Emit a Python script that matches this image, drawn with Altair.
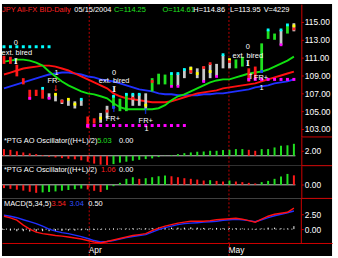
import altair as alt
import pandas as pd

# ---------------- data ----------------
idx = list(range(46))
bar_high = [111.2, 111.1, 110.2, 108.7, 107.4, 107.4, 107.6, 107.0, 106.9, 106.3,
            106.3, 106.1, 106.3, 104.4, 104.2, 104.8, 105.6, 106.7, 106.4, 106.9,
            106.9, 106.9, 107.0, 108.7, 109.2, 109.1, 109.2, 109.2, 109.7, 110.0,
            109.8, 110.0, 110.3, 110.3, 111.3, 110.8, 110.8, 111.1, 109.8, 110.0,
            112.6, 114.1, 113.7, 114.1, 114.7, 114.86]
bar_low = [110.3, 110.3, 108.9, 108.0, 106.3, 106.7, 106.4, 106.4, 106.1, 105.8,
           105.6, 105.3, 105.6, 103.1, 103.6, 103.7, 104.2, 105.3, 105.0, 105.0,
           105.6, 105.6, 105.3, 107.2, 108.0, 108.0, 107.8, 107.8, 108.7, 109.2,
           108.7, 108.3, 108.7, 108.9, 109.8, 109.8, 109.8, 110.0, 108.3, 108.6,
           109.4, 113.1, 113.0, 112.4, 113.7, 113.95]
bar_kind = ["d", "d", "d", "d", "d", "d", "d", "n", "n", "n",
            "n", "n", "n", "d", "d", "n", "n", "u", "u", "u",
            "n", "n", "n", "u", "u", "u", "u", "n", "n", "n",
            "n", "n", "n", "n", "n", "n", "u", "u", "d", "d",
            "u", "u", "u", "n", "u", "n"]

jaw = [107.56, 107.78, 108.0, 108.22, 108.44, 108.67, 108.89, 109.11, 109.22, 109.33,
       109.33, 109.22, 109.11, 108.89, 108.78, 108.56, 108.44, 108.33, 108.11, 107.89,
       107.67, 107.44, 107.33, 107.22, 107.0, 106.89, 106.89, 106.78, 106.78, 106.78,
       106.78, 106.89, 106.89, 107.0, 107.0, 107.11, 107.22, 107.33, 107.44, 107.67,
       107.78, 107.89, 108.11, 108.22, 108.33, 108.56]
teeth = [109.11, 109.33, 109.56, 109.78, 109.89, 110.0, 110.11, 110.11, 110.0, 109.78,
         109.56, 109.22, 108.89, 108.56, 108.22, 107.89, 107.56, 107.0, 106.67, 106.44,
         106.33, 106.22, 106.11, 106.0, 106.0, 106.0, 106.11, 106.33, 106.56, 106.78,
         107.0, 107.11, 107.22, 107.33, 107.56, 107.67, 107.78, 107.89, 108.0, 108.11,
         108.33, 108.56, 108.78, 109.0, 109.22, 109.44]
lips = [110.56, 110.67, 110.78, 110.78, 110.67, 110.44, 110.11, 109.44, 108.89, 108.33,
        107.89, 107.56, 107.22, 107.0, 106.89, 106.67, 106.44, 105.89, 105.44, 105.22,
        105.22, 105.22, 105.22, 105.22, 105.33, 105.67, 106.22, 106.67, 106.89, 107.22,
        107.56, 107.89, 108.22, 108.44, 108.56, 108.56, 108.78, 109.0, 109.22, 109.33,
        109.44, 109.67, 110.0, 110.33, 110.67, 111.11]

dot_i = [4, 6, 7, 8, 9, 10, 11, 12, 13, 15, 16, 17, 17, 19, 20, 20, 21, 22, 23, 26,
         26, 27, 27, 28, 29, 29, 30, 31, 31, 32, 32, 33, 34, 35, 35, 40, 41, 43, 43, 44,
         45, 45]
dot_p = [106.44, 107.56, 106.44, 106.89, 106.11, 106.33, 105.78, 106.33, 103.33, 104.22,
         105.0, 106.67, 105.44, 106.89, 106.89, 106.44, 106.89, 105.67, 108.33, 109.22,
         107.78, 109.22, 107.78, 109.67, 109.78, 109.44, 109.22, 109.89, 108.33, 110.33,
         109.44, 108.89, 111.33, 110.78, 110.56, 109.44, 114.11, 114.11, 112.44, 114.67,
         114.56, 114.22]
dot_k = ["m", "c", "m", "y", "r", "y", "y", "c", "m", "y", "r", "c", "b", "c", "c", "r",
         "c", "y", "r", "c", "m", "c", "m", "c", "y", "r", "y", "r", "m", "r", "y", "m",
         "c", "y", "r", "b", "c", "c", "m", "c", "y", "r"]

frac_i = [0, 1, 2, 3, 4, 5, 6, 7,
          13, 14, 15, 16, 17, 18, 19, 20, 21, 22, 23, 24, 25, 26, 27, 28,
          38, 39, 40, 41, 42, 43, 44, 45]
frac_p = [112.22] * 8 + [103.39] * 16 + [108.56] * 8
frac_k = ["c"] * 8 + ["m"] * 16 + ["m"] * 8

ann_text = ["0", "ext. bired", "1", "FR-", "0", "ext. bired", "FR+", "FR+", "1",
            "0", "ext. bired", "FR+", "1"]
ann_i = [1.85, 2.0, 8.15, 7.7, 17.1, 17.1, 16.9, 22.0, 22.15, 37.85, 37.85, 39.9, 40.0]
ann_p = [112.67, 111.5, 109.22, 108.33, 109.22, 108.33, 104.11, 103.89, 103.0,
         112.22, 111.22, 108.67, 107.56]

glyph_text = ["I", "\u2193", "I", "\u2191", "\u2191", "I", "\u2191"]
glyph_i = [1.85, 8.0, 17.1, 17.1, 22.0, 37.85, 38.3]
glyph_p = [110.56, 107.44, 107.33, 105.11, 104.89, 110.33, 108.78]
glyph_k = ["w", "r", "w", "b", "b", "w", "w"]

ao = [2.8, 2.5, 1.9, 1.4, 1.0, 0.7, 0.3, -0.4, -0.7, -1.0,
      -1.25, -1.5, -1.9, -2.5, -3.3, -3.75, -3.9, -3.5, -2.9, -2.5,
      -2.1, -1.7, -1.4, -1.1, -0.55, -0.1, 0.3, 0.7, 1.1, 1.4,
      1.7, 1.8, 2.1, 2.1, 2.4, 2.5, 2.8, 2.8, 2.5, 2.1,
      2.8, 2.8, 3.5, 4.2, 4.4, 5.03]
ao_kind = ["d"] * 17 + ["u"] * 21 + ["d", "d"] + ["u"] * 6

ac = [-0.37, -0.45, -0.55, -0.65, -0.78, -0.9, -0.85, -0.8, -0.74, -0.66,
      -0.58, -0.5, -0.42, -0.52, -0.67, -0.81, -0.56, -0.15, 0.22, 0.67,
      0.85, 0.67, 0.74, 0.85, 0.96, 1.04, 0.96, 0.85, 0.74, 0.67,
      0.59, 0.48, 0.52, 0.44, 0.37, 0.48, 0.37, 0.30, 0.22, 0.15,
      0.30, 0.44, 0.67, 0.93, 1.22, 1.06]
ac_kind = ["d"] * 6 + ["u"] * 7 + ["d"] * 3 + ["u"] * 5 + ["d"] + ["u"] * 4 + \
          ["d"] * 6 + ["u"] + ["d"] * 2 + ["u"] + ["d"] * 4 + ["u"] * 5 + ["d"]

macd = [2.17, 1.9, 1.5, 0.67, 0.0, -0.5, -0.75, -0.9, -1.08, -1.17,
        -1.33, -1.5, -1.67, -1.92, -2.17, -2.33, -2.08, -1.83, -1.58, -1.33,
        -1.08, -0.92, -0.75, -0.25, 0.17, 0.5, 0.75, 1.0, 1.17, 1.33,
        1.33, 1.33, 1.42, 1.58, 1.67, 1.75, 1.83, 1.67, 1.42, 1.17,
        1.67, 2.17, 2.5, 2.67, 2.83, 3.54]
signal = [2.33, 2.17, 1.92, 1.58, 1.25, 0.92, 0.5, 0.0, -0.33, -0.58,
          -0.75, -1.0, -1.25, -1.58, -1.92, -2.17, -2.08, -1.92, -1.67, -1.42,
          -1.25, -1.08, -0.92, -0.5, -0.08, 0.25, 0.5, 0.75, 0.92, 1.0,
          1.08, 1.17, 1.25, 1.33, 1.5, 1.58, 1.67, 1.58, 1.42, 1.25,
          1.58, 1.92, 2.25, 2.5, 2.75, 3.04]
hist = [-0.15, -0.25, -0.35, -0.35, -0.4, -0.4, -0.35, -0.35, -0.3, -0.3,
        -0.25, -0.25, -0.2, -0.2, -0.15, -0.1, 0.0, 0.1, 0.1, 0.1,
        0.15, 0.15, 0.15, 0.2, 0.25, 0.25, 0.25, 0.25, 0.25, 0.3,
        0.25, 0.2, 0.15, 0.2, 0.15, 0.15, 0.15, 0.1, 0.0, -0.1,
        0.1, 0.25, 0.25, 0.15, 0.1, 0.5]

month_pos = [13.23, 34.92]
month_name = ["Apr", "May"]

header_text = ["JPY All-FX BID-Daily", "05/15/2004", "C=114.25", "O=114.61",
               "H=114.86", "L=113.95", "V=4229"]
ao_title = ["*PTG AO Oscillator((H+L)/2)", "5.03", "0.00"]
ac_title = ["*PTG AC Oscillator((H+L)/2)", "1.06", "0.00"]
macd_title = ["MACD(5,34,5)", "3.54", "3.04", "0.50"]

# ---------------- styling ----------------
FONT = "Liberation Sans"
RED = "#d00000"
W = 333
XDOM = [-0.3077, 50.923]
PDOM = [102.11, 117.0]
AODOM = [-4.17, 7.92]
ACDOM = [-1.522, 2.144]
MDOM = [-4.5, 5.167]
KINDS = ["u", "d", "n", "c", "m", "y", "r", "b", "w"]
KCOL = ["#20e020", "#ff1a1a", "#c8c8c8", "#00ffff", "#ff00ff", "#ffff00",
        "#ff2020", "#2040ff", "#ffffff"]
COLOR = alt.Scale(domain=KINDS, range=KCOL)


def yaxis(values, domain=True):
    return alt.Axis(orient="right", offset=-31, values=values, format=".2f", title=None,
                    grid=False, domain=domain, domainColor=RED, tickColor=RED, tickSize=2,
                    labelColor="white", labelFontSize=8.5, labelFont=FONT, labelPadding=1,
                    labelBaseline="middle", labelAlign="left", labelFlush=False,
                    labelOverlap=False)


def col(field):
    return alt.Color(f"{field}:N", scale=COLOR, legend=None)


def labels(texts, xs_px, colors, y_px):
    out = []
    for t, xp, c in zip(texts, xs_px, colors):
        out.append(alt.Chart().mark_text(text=t, align="left", baseline="middle",
                                         font=FONT, fontSize=7.5, color=c)
                   .encode(x=alt.value(xp), y=alt.value(y_px)))
    return out


def make_enc(x_axis, y_dom, y_axis):
    def xs(field):
        return alt.X(f"{field}:Q", scale=alt.Scale(domain=XDOM, nice=False, zero=False),
                     axis=x_axis)

    def ys(field):
        return alt.Y(f"{field}:Q", scale=alt.Scale(domain=y_dom, nice=False, zero=False),
                     axis=y_axis)
    return xs, ys


months = pd.DataFrame({"pos": month_pos, "name": month_name})
zero = pd.DataFrame({"z": [0]})
sep_h = alt.Chart().mark_rule(color=RED).encode(x=alt.value(302), x2=alt.value(W),
                                                y=alt.value(0))

# ---------------- price panel ----------------
bars = pd.DataFrame({"i": idx, "hi": bar_high, "lo": bar_low, "k": bar_kind})
lines = pd.DataFrame({"i": idx, "jaw": jaw, "teeth": teeth, "lips": lips})
dots = pd.DataFrame({"i": dot_i, "p": dot_p, "k": dot_k})
fracs = pd.DataFrame({"i": frac_i, "p": frac_p, "k": frac_k})
anns = pd.DataFrame({"i": ann_i, "p": ann_p, "t": ann_text})
glyphs = pd.DataFrame({"i": glyph_i, "p": glyph_p, "t": glyph_text, "k": glyph_k})

xs, ys = make_enc(None, PDOM, yaxis([103, 105, 107, 109, 111, 113, 115]))
price_layers = [
    alt.Chart(months).mark_rule(color="#c00000", strokeDash=[2, 2], strokeWidth=1).encode(x=xs("pos")),
    alt.Chart(lines).mark_line(color="#2030ff", strokeWidth=1.9).encode(x=xs("i"), y=ys("jaw")),
    alt.Chart(lines).mark_line(color="#ff1010", strokeWidth=1.9).encode(x=xs("i"), y=ys("teeth")),
    alt.Chart(lines).mark_line(color="#10e010", strokeWidth=1.9).encode(x=xs("i"), y=ys("lips")),
    alt.Chart(bars).mark_rule(strokeWidth=2.8).encode(
        x=xs("i"), y=ys("lo"), y2="hi:Q", color=col("k")),
    alt.Chart(dots).mark_square(size=8, opacity=1).encode(x=xs("i"), y=ys("p"), color=col("k")),
    alt.Chart(fracs).mark_square(size=9, opacity=1).encode(x=xs("i"), y=ys("p"), color=col("k")),
    alt.Chart(anns).mark_text(font=FONT, fontSize=7.5, color="white").encode(
        x=xs("i"), y=ys("p"), text="t:N"),
    alt.Chart(glyphs).mark_text(font="DejaVu Serif", fontSize=8, fontWeight="bold").encode(
        x=xs("i"), y=ys("p"), text="t:N", color=col("k")),
] + labels(header_text, [0, 73, 113, 162, 193, 230, 264],
           ["#ff2020", "white", "#20e020", "#20e020", "white", "white", "white"], 6)

price = alt.layer(*price_layers).properties(width=W, height=134)

# ---------------- AO panel ----------------
aodf = pd.DataFrame({"i": idx, "v": ao, "k": ao_kind, "z": [0] * len(idx)})
xs, ys = make_enc(None, AODOM, yaxis([2]))
ao_layers = [
    alt.Chart(months).mark_rule(color="#c00000", strokeDash=[2, 2], strokeWidth=1).encode(x=xs("pos")),
    alt.Chart(zero).mark_rule(color="#c8c8c8").encode(y=ys("z"), x=alt.value(0), x2=alt.value(296)),
    alt.Chart(aodf).mark_rule(strokeWidth=2).encode(
        x=xs("i"), y=ys("v"), y2="z:Q", color=col("k")),
    sep_h,
] + labels(ao_title, [2, 96, 118], ["white", "#20e020", "white"], 4)
aop = alt.layer(*ao_layers).properties(width=W, height=29)

# ---------------- AC panel ----------------
acdf = pd.DataFrame({"i": idx, "v": ac, "k": ac_kind, "z": [0] * len(idx)})
xs, ys = make_enc(None, ACDOM, yaxis([0]))
ac_layers = [
    alt.Chart(months).mark_rule(color="#c00000", strokeDash=[2, 2], strokeWidth=1).encode(x=xs("pos")),
    alt.Chart(zero).mark_rule(color="#c8c8c8").encode(y=ys("z"), x=alt.value(0), x2=alt.value(296)),
    alt.Chart(acdf).mark_rule(strokeWidth=2).encode(
        x=xs("i"), y=ys("v"), y2="z:Q", color=col("k")),
    sep_h,
] + labels(ac_title, [2, 100, 118], ["white", "#ff2020", "white"], 4)
acp = alt.layer(*ac_layers).properties(width=W, height=33)

# ---------------- MACD panel ----------------
mdf = pd.DataFrame({"i": idx, "m": macd, "s": signal, "h": hist, "z": [0] * len(idx)})
lab_expr = f"datum.value < {(month_pos[0] + month_pos[1]) / 2} ? '{month_name[0]}' : '{month_name[1]}'"
xaxis = alt.Axis(orient="bottom", offset=-13, values=month_pos, labelExpr=lab_expr, title=None,
                 grid=False, domainColor=RED, tickColor=RED, tickSize=3, labelColor="white",
                 labelFont=FONT, labelFontSize=8.5, labelAlign="left", labelOffset=-1,
                 labelBaseline="alphabetic", labelPadding=7, labelFlush=False, labelOverlap=False)
xs, ys = make_enc(xaxis, MDOM, yaxis([0, 2.5], domain=False))
macd_layers = [
    alt.Chart(months).mark_rule(color="#c00000", strokeDash=[2, 2], strokeWidth=1).encode(x=xs("pos")),
    alt.Chart(zero).mark_rule(color="white", strokeDash=[1, 3]).encode(
        y=ys("z"), x=alt.value(0), x2=alt.value(296)),
    alt.Chart(mdf).mark_rule(color="white", strokeWidth=1).encode(
        x=xs("i"), y=ys("h"), y2="z:Q"),
    alt.Chart(mdf).mark_line(color="#2030ff", strokeWidth=1.4).encode(x=xs("i"), y=ys("s")),
    alt.Chart(mdf).mark_line(color="#ff1010", strokeWidth=1.4).encode(x=xs("i"), y=ys("m")),
    sep_h,
    alt.Chart().mark_rule(color=RED).encode(x=alt.value(302), y=alt.value(0), y2=alt.value(45)),
] + labels(macd_title, [2, 50, 68, 87], ["white", "#ff2020", "#3050ff", "white"], 6)
mp = alt.layer(*macd_layers).properties(width=W, height=58)

chart = alt.vconcat(price, aop, acp, mp, spacing=0, bounds="flush").properties(
    background="white",
    padding={"left": 0, "top": 2, "right": 5, "bottom": 2},
).configure_view(stroke=None, fill="black")

chart.save("out.html", embed_options={"renderer": "svg", "actions": False})
